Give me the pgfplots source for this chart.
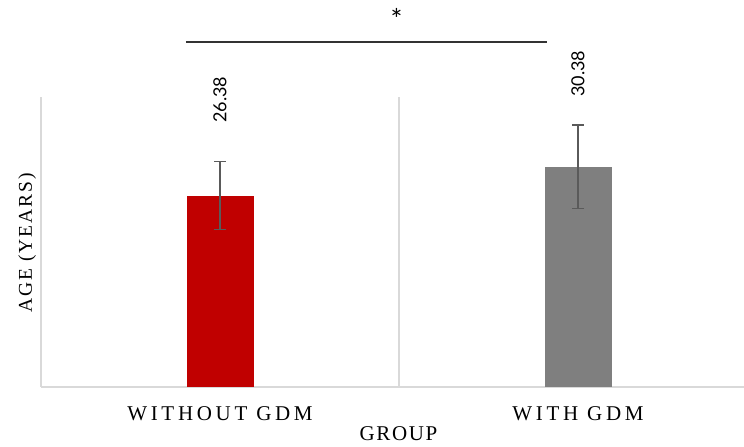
\documentclass[border=0pt]{standalone}
\usepackage{pgfplots}
\pgfplotsset{compat=1.18}
\usepackage{pgfplotstable}
\usepackage{fontspec}
\setmainfont{Liberation Serif}
\newfontfamily\numfont{Lato}
\newfontfamily\tickfont[LetterSpace=17.5]{Liberation Serif}
\newfontfamily\grpfont[LetterSpace=8]{Liberation Serif}
\newfontfamily\ylabfont[LetterSpace=10]{Liberation Serif}
\definecolor{barred}{HTML}{C00000}
\definecolor{bargray}{HTML}{7F7F7F}
\definecolor{gridc}{HTML}{D9D9D9}
\definecolor{errc}{HTML}{5A5A5A}

\pgfplotstableread{
x y err
0 26.38 4.70
}\tableA
\pgfplotstableread{
x y err
1 30.38 5.78
}\tableB

\begin{document}
\begin{tikzpicture}
\path[use as bounding box] (-41bp,-60.5bp) rectangle (703bp,386.5bp);
\begin{axis}[
  at={(0,0)}, anchor=south west,
  scale only axis, width=703bp, height=289.5bp,
  xmin=-0.5, xmax=1.4637, ymin=0, ymax=40,
  clip=false,
  axis line style={draw=none},
  tick style={draw=none},
  ytick=\empty,
  xtick={0,1},
  xticklabels={WITHOUT GDM, WITH GDM},
  xticklabel style={font=\tickfont\fontsize{21bp}{25bp}\selectfont, anchor=base, inner sep=0pt, yshift=-33.5bp},
  extra x ticks={-0.5,0.5},
  extra x tick labels={},
  extra x tick style={grid=major, major grid style={gridc, line width=2bp}, tick style={draw=none}},
  extra y ticks={0},
  extra y tick labels={},
  extra y tick style={grid=major, major grid style={gridc, line width=2bp}, tick style={draw=none}},
  xlabel={GROUP},
  xlabel style={font=\grpfont\fontsize{21bp}{25bp}\selectfont, at={(axis description cs:0.5085,0)}, anchor=base, inner sep=0pt, yshift=-53.5bp},
  ylabel={AGE (YEARS)},
  ylabel style={font=\ylabfont\fontsize{19.5bp}{23bp}\selectfont, at={(axis description cs:-0.0128,0.497)}, anchor=base, inner sep=0pt},
]
\addplot[ybar, bar width=67bp, bar shift=0pt, fill=barred, draw=none,
  error bars/.cd, y dir=both, y explicit,
  error bar style={errc, line width=1.8bp},
  error mark options={errc, line width=1.8bp, mark size=6bp, rotate=90}]
  table[x=x, y=y, y error=err] {\tableA};
\addplot[ybar, bar width=67bp, bar shift=0pt, fill=bargray, draw=none,
  error bars/.cd, y dir=both, y explicit,
  error bar style={errc, line width=1.8bp},
  error mark options={errc, line width=1.8bp, mark size=6bp, rotate=90}]
  table[x=x, y=y, y error=err] {\tableB};
\node[rotate=90, anchor=west, inner sep=0pt, font=\numfont\fontsize{18bp}{20bp}\selectfont] at (axis cs:0,36.41) {26.38};
\node[rotate=90, anchor=west, inner sep=0pt, font=\numfont\fontsize{18bp}{20bp}\selectfont] at (axis cs:1,40.0) {30.38};
\draw[color=black!80, line width=1.8bp] (axis cs:-0.095,47.64) -- (axis cs:0.9134,47.64);
\node[anchor=base, inner sep=0pt, font=\numfont\fontsize{28bp}{30bp}\selectfont] at (axis cs:0.493,49.3) {*};
\end{axis}
\end{tikzpicture}
\end{document}
